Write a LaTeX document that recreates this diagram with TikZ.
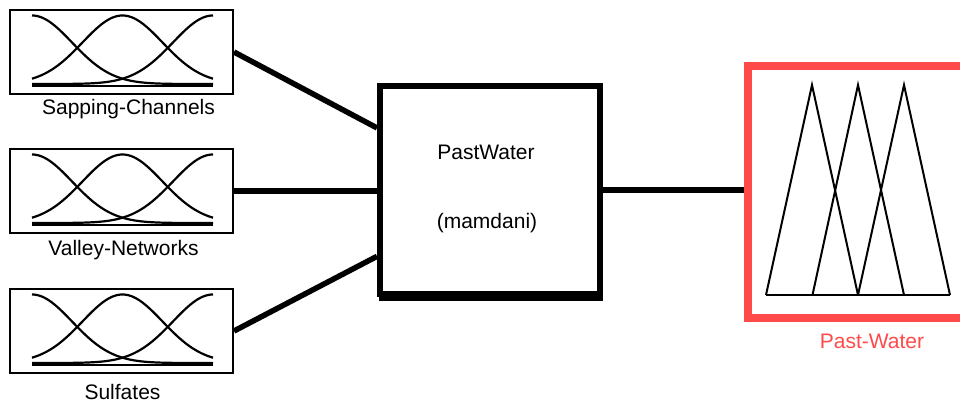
\documentclass[tikz,border=0pt]{standalone}
\usepackage{fontspec}
\setmainfont{Liberation Sans}
\usetikzlibrary{calc}
\definecolor{outred}{HTML}{FF4A4A}

% three Gaussian membership curves inside an input block whose top edge is at #1
\newcommand\mficon[1]{%
  \foreach \c in {32,122.5,213}{%
    \draw[mfline] plot[domain=32:213,samples=90]
      (\x,{#1+74-68.5*exp(-0.5*((\x-\c)/40)^2)});
  }
  \draw[mfline] (32,#1+76) -- (213,#1+76);
}

\begin{document}
\begin{tikzpicture}[x=1pt,y=-1pt,
  inbox/.style={draw,line width=2pt,minimum width=223pt,minimum height=84pt,inner sep=0pt},
  fisbox/.style={draw,line width=6pt,minimum width=220pt,minimum height=208pt,inner sep=0pt},
  outbox/.style={draw=outred,line width=8pt,minimum width=300pt,minimum height=252pt,inner sep=0pt},
  mfline/.style={line width=2.2pt,line join=round},
  wire/.style={line width=5.5pt},
  lbl/.style={anchor=base,inner sep=0pt,font=\fontsize{21}{25}\selectfont}]

\useasboundingbox (0,0) rectangle (960,403);
\clip (0,0) rectangle (960,403);
\fill[white] (0,0) rectangle (960,403);

% input blocks
\node[inbox] (in1) at (121.5,52) {};
\node[inbox] (in2) at (121.5,191) {};
\node[inbox] (in3) at (121.5,331) {};
\mficon{10}
\mficon{149}
\mficon{289}
\node[lbl] (l1) at (128.5,115) {Sapping-Channels};
\node[lbl] (l2) at (123.5,255) {Valley-Networks};
\node[lbl] (l3) at (122.5,399) {Sulfates};

% inference system block, with its heavier lower edge
\node[fisbox] (fis) at (490,190) {};
\draw[line width=5pt] ($(fis.south west)+(2,1.5)$) -- ($(fis.south east)+(0,1.5)$);
\node[lbl] (name) at (486,160) {PastWater};
\node[lbl] (type) at (487,229) {(mamdani)};

% output block
\node[outbox] (out) at (897.5,192) {};
\coordinate (b1) at (766,295);
\coordinate (b2) at (812.5,295);
\coordinate (b3) at (858,295);
\coordinate (b4) at (904,295);
\coordinate (b5) at (950,295);
\coordinate (p1) at (812,85);
\coordinate (p2) at (858,85);
\coordinate (p3) at (904,85);
\draw[line width=2pt] (b1) -- (p1) -- (b3);
\draw[line width=2pt] (b2) -- (p2) -- (b4);
\draw[line width=2pt] (b3) -- (p3) -- (b5);
\draw[line width=2pt] (b1) -- (b5);
\node[lbl,text=outred] (l4) at (872,348) {Past-Water};

% connectors
\draw[wire] (in1.east) -- ($(fis.north west)!0.21!(fis.south west)$);
\draw[wire] (in2.east) -- (in2.east -| fis.west);
\draw[wire] (in3.east) -- ($(fis.north west)!0.81!(fis.south west)$);
\draw[wire] (fis.east) -- (fis.east -| out.west);
\end{tikzpicture}
\end{document}
